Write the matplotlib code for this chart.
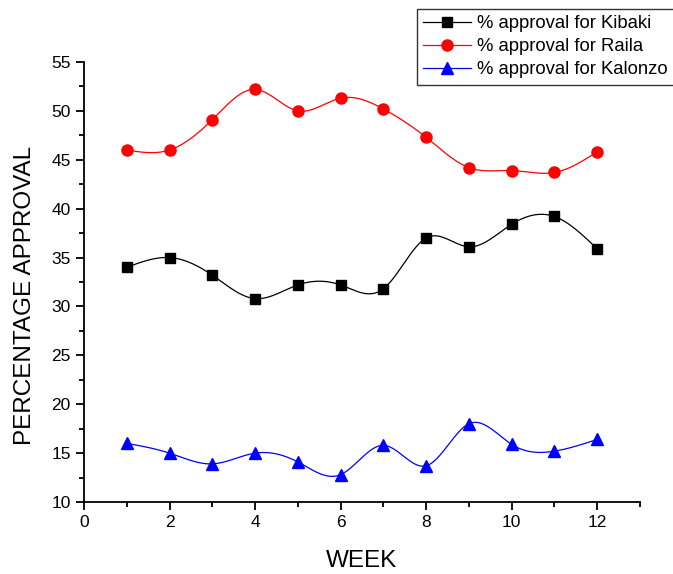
import matplotlib
matplotlib.use("Agg")
import matplotlib.pyplot as plt
import numpy as np
from matplotlib.ticker import MultipleLocator

plt.rcParams["font.family"] = ["Liberation Sans", "DejaVu Sans"]

weeks = [1, 2, 3, 4, 5, 6, 7, 8, 9, 10, 11, 12]
kibaki = [34.0, 35.0, 33.2, 30.8, 32.2, 32.2, 31.8, 37.0, 36.1, 38.4, 39.2, 35.9]
raila = [46.0, 46.0, 49.1, 52.2, 50.0, 51.3, 50.2, 47.3, 44.2, 43.9, 43.7, 45.8]
kalonzo = [16.0, 15.0, 13.9, 15.0, 14.1, 12.8, 15.8, 13.7, 18.0, 15.9, 15.2, 16.4]


def natural_spline(x, y, n=400):
    # plain natural cubic spline, used only to draw the smooth connecting line
    x = np.asarray(x, float)
    y = np.asarray(y, float)
    k = len(x)
    h = np.diff(x)
    a = np.zeros((k, k))
    b = np.zeros(k)
    a[0, 0] = a[-1, -1] = 1
    for i in range(1, k - 1):
        a[i, i - 1] = h[i - 1]
        a[i, i] = 2 * (h[i - 1] + h[i])
        a[i, i + 1] = h[i]
        b[i] = 3 * ((y[i + 1] - y[i]) / h[i] - (y[i] - y[i - 1]) / h[i - 1])
    c = np.linalg.solve(a, b)
    xs = np.linspace(x[0], x[-1], n)
    idx = np.clip(np.searchsorted(x, xs) - 1, 0, k - 2)
    dx = xs - x[idx]
    bb = (y[idx + 1] - y[idx]) / h[idx] - h[idx] * (2 * c[idx] + c[idx + 1]) / 3
    dd = (c[idx + 1] - c[idx]) / (3 * h[idx])
    ys = y[idx] + bb * dx + c[idx] * dx ** 2 + dd * dx ** 3
    return xs, ys


fig = plt.figure(figsize=(6.73, 5.74), dpi=100)
ax = fig.add_axes([0.1248, 0.1254, 0.826, 0.7666])

series = [
    (kibaki, "black", "s", 7, "% approval for Kibaki"),
    (raila, "red", "o", 8, "% approval for Raila"),
    (kalonzo, "blue", "^", 8.5, "% approval for Kalonzo"),
]
handles = []
for vals, col, mk, ms, lab in series:
    xs, ys = natural_spline(weeks, vals)
    ax.plot(xs, ys, color=col, linewidth=0.9)
    ax.plot(weeks, vals, linestyle="none", marker=mk, markersize=ms, color=col)
    h, = ax.plot([], [], color=col, linewidth=0.9, marker=mk, markersize=ms, label=lab)
    handles.append(h)

ax.set_xlim(0, 13)
ax.set_ylim(10, 55)
ax.xaxis.set_major_locator(MultipleLocator(2))
ax.xaxis.set_minor_locator(MultipleLocator(1))
ax.yaxis.set_major_locator(MultipleLocator(5))
ax.yaxis.set_minor_locator(MultipleLocator(2.5))
ax.set_xticks([0, 2, 4, 6, 8, 10, 12])
ax.spines["top"].set_visible(False)
ax.spines["right"].set_visible(False)
ax.spines["left"].set_linewidth(1.3)
ax.spines["bottom"].set_linewidth(1.3)
ax.tick_params(which="major", direction="out", length=6, width=1.3, labelsize=12.5)
ax.tick_params(which="minor", direction="out", length=3.5, width=1.3)
ax.set_xlabel("WEEK", fontsize=17.5, labelpad=14)
ax.set_ylabel("PERCENTAGE APPROVAL", fontsize=17.5)
ax.yaxis.set_label_coords(-0.087, 0.47)

leg = fig.legend(handles=handles, loc="upper left", bbox_to_anchor=(417 / 673, 1 - 9 / 574),
                 fontsize=13.3, frameon=True, fancybox=False, edgecolor="black",
                 handlelength=2.6, handletextpad=0.3, borderpad=0.35, labelspacing=0.32,
                 borderaxespad=0)
leg.get_frame().set_linewidth(1.0)

fig.savefig("out.png", dpi=100)
